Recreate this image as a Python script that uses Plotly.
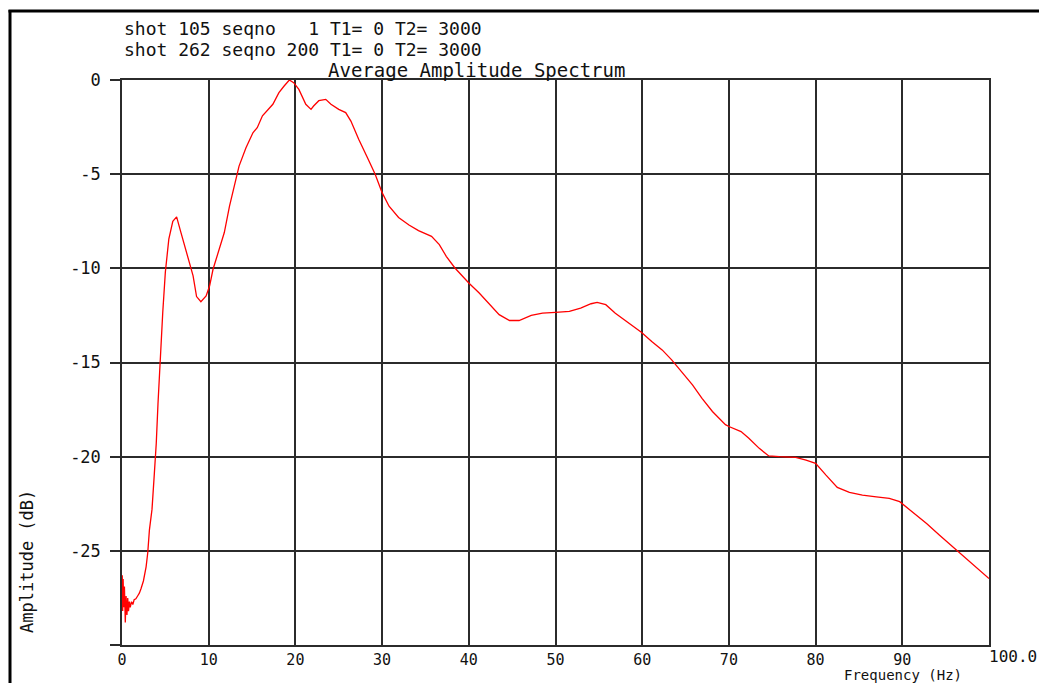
import plotly.graph_objects as go

freq = [0.03, 0.08, 0.13, 0.2, 0.28, 0.38, 0.47, 0.57, 0.66, 0.75, 0.85, 0.95, 1.1, 1.25, 1.4, 1.6, 1.8, 2.0,
        2.2, 2.47, 2.78, 2.97, 3.16, 3.46, 3.73, 3.95, 4.15, 4.4, 4.7, 5.0, 5.4, 5.86, 6.3, 6.8, 7.6, 8.2, 8.6,
        9.1, 9.7, 10.1, 10.5, 11.0, 11.8, 12.4, 13.0, 13.5, 14.3, 15.1, 15.6, 16.2, 17.4, 18.1, 18.7, 19.3,
        19.8, 20.4, 21.2, 21.8, 22.1, 22.7, 23.5, 24.1, 25.0, 25.8, 26.4, 27.3, 28.3, 29.2, 30.0, 30.8, 31.9,
        33.1, 34.2, 35.2, 35.7, 36.6, 37.4, 38.4, 40.0, 41.2, 42.4, 43.5, 44.7, 45.8, 47.2, 48.5, 50.0, 51.6,
        52.9, 54.1, 54.8, 55.8, 56.9, 58.5, 59.9, 61.1, 62.3, 63.4, 64.2, 65.8, 66.9, 68.1, 69.6, 70.0, 71.4,
        72.3, 73.5, 74.6, 75.8, 77.7, 78.9, 80.0, 81.2, 82.5, 83.9, 85.4, 87.0, 88.5, 89.7, 91.2, 92.8, 94.3,
        96.3, 98.2, 100.0]
amp = [-26.3, -28.2, -26.5, -28.0, -26.9, -28.8, -27.4, -28.4, -27.5, -28.2, -27.7, -28.0, -27.7, -27.85,
       -27.6, -27.55, -27.4, -27.25, -27.0, -26.6, -25.85, -25.1, -23.9, -22.8, -20.9, -19.3, -17.2, -14.8,
       -12.35, -10.2, -8.45, -7.5, -7.27, -8.1, -9.35, -10.4, -11.5, -11.77, -11.47, -10.94, -10.05, -9.35,
       -8.1, -6.7, -5.6, -4.57, -3.6, -2.8, -2.53, -1.9, -1.29, -0.67, -0.32, 0.0, -0.14, -0.5, -1.29, -1.56,
       -1.38, -1.1, -1.03, -1.29, -1.56, -1.73, -2.18, -3.15, -4.12, -5.0, -5.98, -6.7, -7.3, -7.7, -8.0,
       -8.2, -8.3, -8.74, -9.36, -9.98, -10.78, -11.31, -11.93, -12.46, -12.77, -12.77, -12.5, -12.38,
       -12.34, -12.29, -12.11, -11.88, -11.81, -11.93, -12.38, -12.9, -13.39, -13.88, -14.33, -14.86, -15.3,
       -16.19, -16.9, -17.6, -18.3, -18.4, -18.67, -19.02, -19.56, -19.96, -20.0, -20.04, -20.18, -20.35,
       -20.98, -21.63, -21.9, -22.04, -22.13, -22.22, -22.39, -22.93, -23.55, -24.17, -24.96, -25.76, -26.47]

x_ticks = [0, 10, 20, 30, 40, 50, 60, 70, 80, 90, 100]
x_ticktext = ["0", "10", "20", "30", "40", "50", "60", "70", "80", "90", ""]
y_ticks = [0, -5, -10, -15, -20, -25, -30]
y_ticktext = ["0", "-5", "-10", "-15", "-20", "-25", ""]

header1 = "shot 105 seqno   1 T1= 0 T2= 3000"
header2 = "shot 262 seqno 200 T1= 0 T2= 3000"
title = "Average Amplitude Spectrum"

FONT = "DejaVu Sans Mono"
GRID = "#2b2b2b"


def nb(s):
    return s.replace(" ", "\u00a0")


# plot area in pixels
W, H = 1039, 683
L, R, T, B = 122, 989, 80, 645
pw, ph = R - L, B - T


def px(xp):
    return (xp - L) / pw


def py(yp):
    return (B - yp) / ph


fig = go.Figure()
fig.add_trace(go.Scatter(x=freq, y=amp, mode="lines",
                         line=dict(color="#ff0000", width=1.3), showlegend=False))

fig.update_layout(
    width=W, height=H,
    margin=dict(l=L, r=W - R, t=T, b=H - B),
    paper_bgcolor="white", plot_bgcolor="white",
    font=dict(family=FONT, size=17, color="#111"),
    xaxis=dict(range=[0, 100], tickvals=x_ticks, ticktext=x_ticktext,
               showgrid=True, gridcolor=GRID, gridwidth=1.5,
               showline=True, linecolor=GRID, linewidth=1.5, mirror=True,
               ticks="", zeroline=False, tickfont=dict(family=FONT, size=15)),
    yaxis=dict(range=[-30, 0], tickvals=y_ticks, ticktext=y_ticktext,
               showgrid=True, gridcolor=GRID, gridwidth=1.5,
               showline=True, linecolor=GRID, linewidth=1.5, mirror=True,
               ticks="outside", ticklen=10, tickwidth=1.5, tickcolor=GRID,
               ticklabelstandoff=6,
               zeroline=False, tickfont=dict(family=FONT, size=17)),
)

annos = [
    dict(text=nb(header1), x=0, y=py(29), xanchor="left", yanchor="middle", font=dict(size=18)),
    dict(text=nb(header2), x=0, y=py(50), xanchor="left", yanchor="middle", font=dict(size=18)),
    dict(text=nb(title), x=px(476), y=py(70), xanchor="center", yanchor="middle", font=dict(size=19)),
    dict(text=nb("Frequency (Hz)"), x=px(903), y=py(675), xanchor="center", yanchor="middle", font=dict(size=14)),
    dict(text=nb("Amplitude (dB)"), x=px(27), y=py(562), xanchor="center", yanchor="middle",
         textangle=-90, font=dict(size=17)),
]
for a in annos:
    a.update(xref="paper", yref="paper", showarrow=False)
    a["font"]["family"] = FONT
    a["font"]["color"] = "#111"
    fig.add_annotation(**a)

# "100.0" label at the end of the frequency axis, left aligned at the last gridline
fig.add_annotation(text="100.0", x=100, y=py(656), xref="x", yref="paper", xanchor="left",
                   yanchor="middle", xshift=-2, showarrow=False,
                   font=dict(family=FONT, size=16, color="#111"))

# outer frame (left and top)
fig.add_shape(type="line", xref="paper", yref="paper", x0=px(10), x1=px(10), y0=py(10), y1=py(H + 5),
              line=dict(color="black", width=3))
fig.add_shape(type="line", xref="paper", yref="paper", x0=px(8.5), x1=px(W + 5), y0=py(11), y1=py(11),
              line=dict(color="black", width=3))

fig.write_html("out.html")
